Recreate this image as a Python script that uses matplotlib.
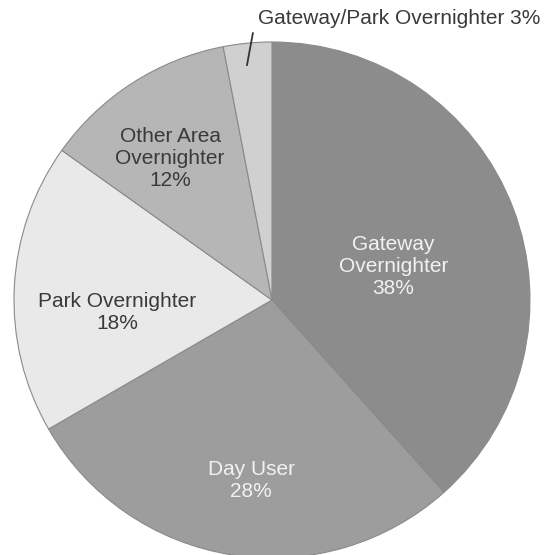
import matplotlib.pyplot as plt

plt.rcParams['font.family'] = ['Liberation Sans', 'DejaVu Sans']

categories = ['Gateway\nOvernighter', 'Day User', 'Park Overnighter',
              'Other Area\nOvernighter', 'Gateway/Park Overnighter']
shares = [38, 28, 18, 12, 3]
colors = ['#8c8c8c', '#9d9d9d', '#e9e9e9', '#b6b6b6', '#d0d0d0']
text_colors = ['#f2f2f2', '#f2f2f2', '#3a3a3a', '#3a3a3a', '#3a3a3a']

fig = plt.figure(figsize=(5.53, 5.55), dpi=100)
ax = fig.add_axes([14 / 553, -3 / 555, 516 / 553, 516 / 555])

wedges, _ = ax.pie(shares, colors=colors, startangle=90, counterclock=False,
                   radius=1.0, wedgeprops=dict(edgecolor='#8a8a8a', linewidth=0.8))
ax.set_xlim(-1, 1)
ax.set_ylim(-1, 1)
ax.set_aspect('equal')
ax.axis('off')

# label positions inside the wedges (pie radius = 1)
label_pos = [(0.47, 0.13), (-0.08, -0.70), (-0.60, -0.05), (-0.395, 0.55)]
for i, (x, y) in enumerate(label_pos):
    ax.text(x, y, f'{categories[i]}\n{shares[i]}%', ha='center', va='center',
            fontsize=15, color=text_colors[i], linespacing=1.2)

# small slice gets an outside label with a leader line
ax.annotate('', xy=(-0.097, 0.91), xytext=(-0.074, 1.035),
            arrowprops=dict(arrowstyle='-', color='#333333', lw=1.3,
                            shrinkA=0, shrinkB=0),
            annotation_clip=False)
ax.text(-0.056, 1.093, f'{categories[4]} {shares[4]}%', fontsize=15,
        color='#3a3a3a', ha='left', va='center', clip_on=False)

fig.savefig('out.png', dpi=100, facecolor='white')
